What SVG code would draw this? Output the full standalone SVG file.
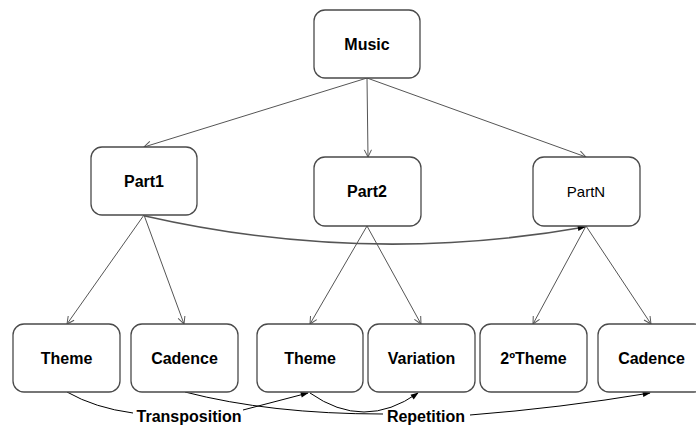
<svg xmlns="http://www.w3.org/2000/svg" width="696" height="430" viewBox="0 0 696 430">
  <style>
    .box { fill: #ffffff; stroke: #4a4a4a; stroke-width: 1.3; }
    .lbl { font-family: "Liberation Sans", Arial, sans-serif; font-size: 16px; font-weight: bold; fill: #000000; text-anchor: middle; }
    .thin { font-weight: normal; font-size: 15px; }
    .tree { fill: none; stroke: #555555; stroke-width: 1; marker-end: url(#open); }
    .link { fill: none; stroke: #555555; stroke-width: 1.6; marker-end: url(#solid); }
    .rel { fill: none; stroke: #000000; stroke-width: 1; }
    .rela { fill: none; stroke: #000000; stroke-width: 1; marker-end: url(#solid); }
  </style>
  <defs>
    <marker id="open" viewBox="0 0 10 10" refX="9" refY="5" markerWidth="9" markerHeight="9" markerUnits="userSpaceOnUse" orient="auto">
      <path d="M1,1 L9,5 L1,9" fill="none" stroke="#555555" stroke-width="1.1"/>
    </marker>
    <marker id="solid" viewBox="0 0 10 10" refX="9" refY="5" markerWidth="9" markerHeight="8" markerUnits="userSpaceOnUse" orient="auto">
      <path d="M0,1.5 L10,5 L0,8.5 Z" fill="#000000"/>
    </marker>
  </defs>

  <g id="connectors">
    <path class="tree" d="M367,78 L144,147"/>
    <path class="tree" d="M367,78 L368,157"/>
    <path class="tree" d="M367,78 L586,157"/>
    <path class="tree" d="M144,215 L67,324"/>
    <path class="tree" d="M144,215 L184,324"/>
    <path class="tree" d="M367,226 L310,324"/>
    <path class="tree" d="M367,226 L421,324"/>
    <path class="tree" d="M586,226 L533,324"/>
    <path class="tree" d="M586,226 L651,324"/>
    <path class="link" d="M145,216 Q365,266 585,227"/>
    <path class="rel" d="M67,392 Q95,408 133,413"/>
    <path class="rela" d="M243,410 L308,393"/>
    <path class="rel" d="M185,392 Q270,414 383,414"/>
    <path class="rela" d="M470,415 Q560,408 650,393"/>
    <path class="rela" d="M310,393 Q364,431 418,393"/>
  </g>

  <g id="music">
    <rect class="box" x="314" y="10" width="106" height="68" rx="11"/>
    <text class="lbl" x="367" y="50">Music</text>
  </g>
  <g id="part1">
    <rect class="box" x="91" y="147" width="106" height="68" rx="11"/>
    <text class="lbl" x="144" y="187">Part1</text>
  </g>
  <g id="part2">
    <rect class="box" x="314" y="157" width="107" height="69" rx="11"/>
    <text class="lbl" x="367" y="197">Part2</text>
  </g>
  <g id="partN">
    <rect class="box" x="533" y="157" width="107" height="69" rx="11"/>
    <text class="lbl thin" x="586" y="197">PartN</text>
  </g>
  <g id="theme1">
    <rect class="box" x="13" y="324" width="107" height="68" rx="11"/>
    <text class="lbl" x="66.5" y="364">Theme</text>
  </g>
  <g id="cadence1">
    <rect class="box" x="131" y="324" width="107" height="68" rx="11"/>
    <text class="lbl" x="184.5" y="364">Cadence</text>
  </g>
  <g id="theme2">
    <rect class="box" x="257" y="324" width="106" height="68" rx="11"/>
    <text class="lbl" x="310" y="364">Theme</text>
  </g>
  <g id="variation">
    <rect class="box" x="368" y="324" width="107" height="68" rx="11"/>
    <text class="lbl" x="421.5" y="364">Variation</text>
  </g>
  <g id="theme2nd">
    <rect class="box" x="480" y="324" width="107" height="68" rx="11"/>
    <text class="lbl" x="533.5" y="364">2ºTheme</text>
  </g>
  <g id="cadence2">
    <rect class="box" x="598" y="324" width="107" height="68" rx="11"/>
    <text class="lbl" x="651.5" y="364">Cadence</text>
  </g>
  <g id="labels">
    <text class="lbl" x="189" y="422">Transposition</text>
    <text class="lbl" x="426" y="422">Repetition</text>
  </g>
</svg>
